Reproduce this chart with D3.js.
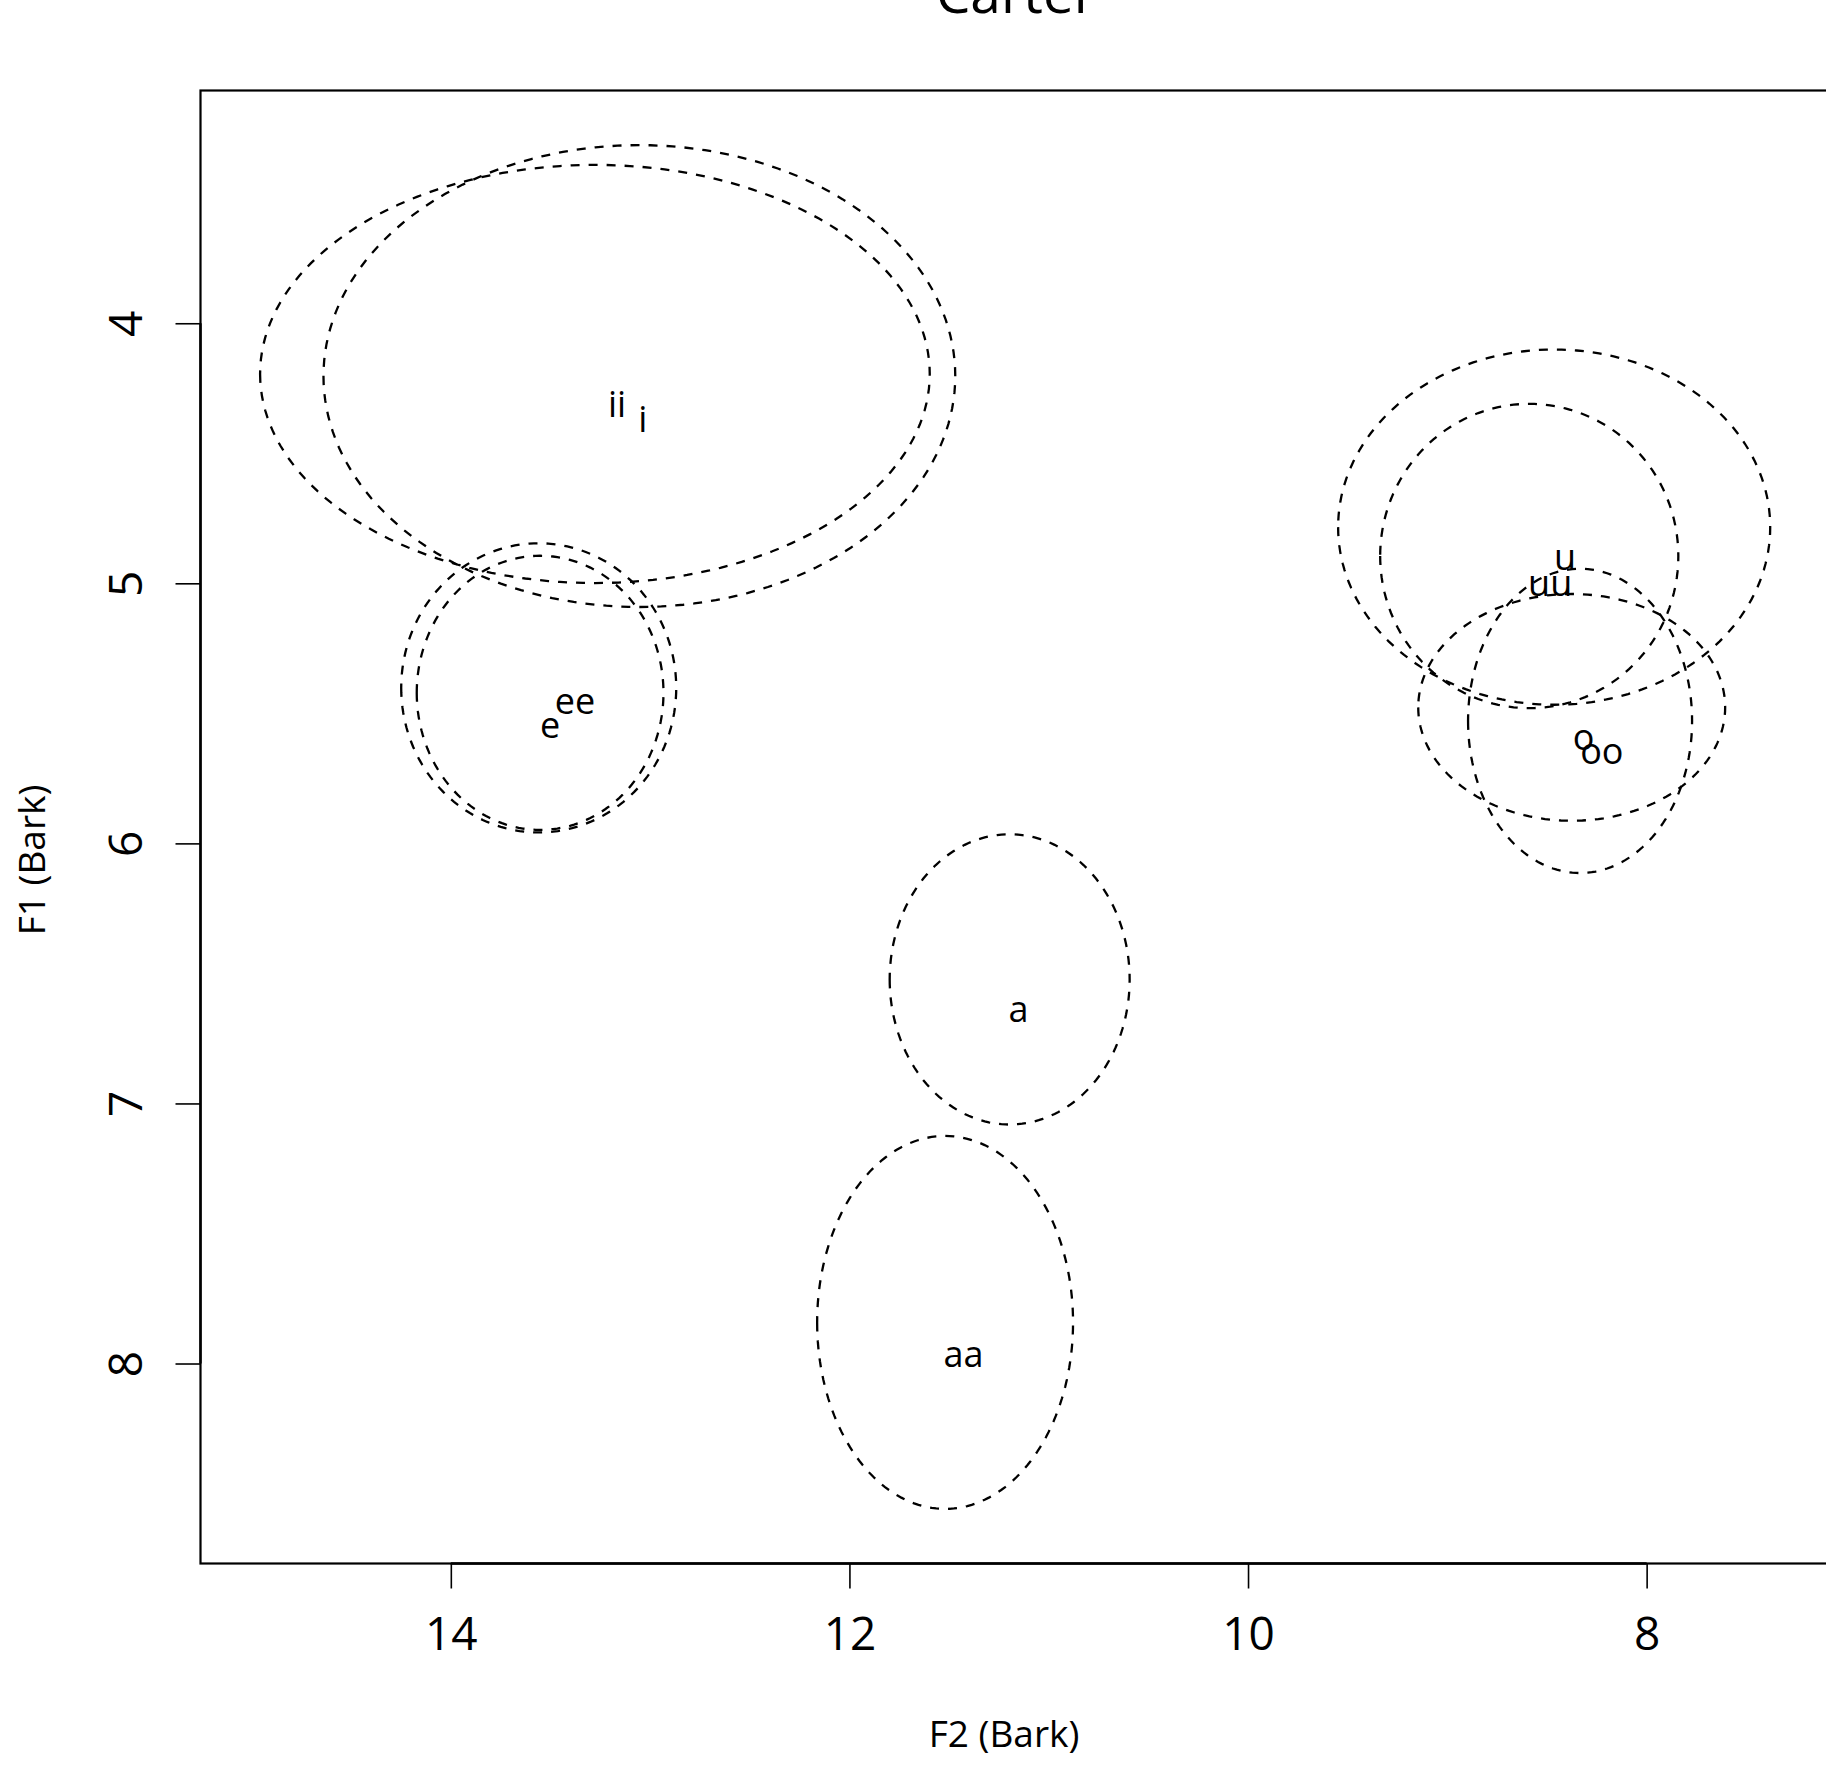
<!DOCTYPE html>
<html><head><meta charset="utf-8">
<script src="https://cdn.jsdelivr.net/npm/d3@7"></script>
<style>
body{margin:0;background:#fff}
svg text{font-family:"Open Sans","Noto Sans",sans-serif;fill:#000}
</style>
</head><body>
<svg id="chart" width="1826" height="1773"></svg>
<script>
// ---- data ----
const titleText = "Carter";
const xLabelText = "F2 (Bark)";
const yLabelText = "F1 (Bark)";
const xTicks = [14, 12, 10, 8];
const yTicks = [4, 5, 6, 7, 8];
const xLim = [15.256, 7.09];
const yLim = [3.105, 8.769];

// ellipses (F2 centre, F1 centre, F2 half-width, F1 half-height), all in Bark
const ellipseNames = ["ii", "i", "e", "ee", "a", "aa", "u", "uu", "o", "oo"];
const ellipseF2 = [13.277, 13.054, 13.559, 13.552, 11.196, 11.520, 8.464, 8.589, 8.334, 8.376];
const ellipseF1 = [4.195, 4.203, 5.402, 5.421, 6.523, 7.842, 4.784, 4.895, 5.529, 5.477];
const ellipseRF2 = [1.680, 1.585, 0.690, 0.619, 0.602, 0.642, 1.084, 0.748, 0.562, 0.770];
const ellipseRF1 = [0.804, 0.888, 0.556, 0.527, 0.558, 0.717, 0.683, 0.585, 0.585, 0.436];

// vowel labels (text baseline centre)
const labelText = ["ii", "i", "e", "ee", "a", "aa", "u", "uu", "o", "oo"];
const labelF2 = [13.166, 13.037, 13.502, 13.377, 11.152, 11.428, 8.409, 8.484, 8.317, 8.225];
const labelF1 = [4.359, 4.417, 5.596, 5.502, 6.687, 8.015, 4.949, 5.049, 5.639, 5.695];

// ---- layout ----
const W = 1826, H = 1773;
const plot = {left: 200.5, right: 1828, top: 90.5, bottom: 1563.5};

const svg = d3.select("#chart");
const x = d3.scaleLinear().domain(xLim).range([plot.left, plot.right]);
const y = d3.scaleLinear().domain(yLim).range([plot.top, plot.bottom]);

// box
svg.append("rect")
  .attr("x", plot.left).attr("y", plot.top)
  .attr("width", plot.right - plot.left).attr("height", plot.bottom - plot.top)
  .attr("fill", "none").attr("stroke", "#000").attr("stroke-width", 2.2);

// ellipses
const line = d3.line().x(d => x(d[0])).y(d => y(d[1])).curve(d3.curveLinearClosed);
const angles = d3.range(0, 360, 2).map(a => a * Math.PI / 180);
svg.append("g").selectAll("path")
  .data(ellipseNames.map((n, i) => i))
  .join("path")
  .attr("d", i => line(angles.map(t => [
      ellipseF2[i] + ellipseRF2[i] * Math.cos(t),
      ellipseF1[i] + ellipseRF1[i] * Math.sin(t)])))
  .attr("fill", "none").attr("stroke", "#000")
  .attr("stroke-width", 2.3).attr("stroke-dasharray", "9,9");

// labels
svg.append("g").selectAll("text")
  .data(labelText.map((t, i) => i))
  .join("text")
  .attr("x", i => x(labelF2[i])).attr("y", i => y(labelF1[i]))
  .attr("text-anchor", "middle").attr("font-size", 36)
  .text(i => labelText[i]);

// x axis
const xAxis = svg.append("g").attr("transform", `translate(0,${plot.bottom})`)
  .call(d3.axisBottom(x).tickValues(xTicks).tickSize(25).tickFormat(d3.format("d")));
xAxis.select(".domain").remove();
xAxis.selectAll(".tick line").attr("stroke", "#000").attr("stroke-width", 1.6);
xAxis.selectAll(".tick text").attr("y", 86.5).attr("dy", 0)
  .attr("font-size", 46).attr("fill", "#000")
  .style("font-family", '"Open Sans","Noto Sans",sans-serif');
svg.append("line")
  .attr("x1", x(xTicks[0])).attr("x2", x(xTicks[xTicks.length - 1]))
  .attr("y1", plot.bottom).attr("y2", plot.bottom)
  .attr("stroke", "#000").attr("stroke-width", 2.4);

// y axis
const yAxis = svg.append("g").attr("transform", `translate(${plot.left},0)`)
  .call(d3.axisLeft(y).tickValues(yTicks).tickSize(25).tickFormat(d3.format("d")));
yAxis.select(".domain").remove();
yAxis.selectAll(".tick line").attr("stroke", "#000").attr("stroke-width", 1.6);
yAxis.selectAll(".tick text")
  .attr("x", 0).attr("y", 0).attr("dy", 0)
  .attr("text-anchor", "middle")
  .attr("transform", `translate(${142 - plot.left},0) rotate(-90)`)
  .attr("font-size", 46).attr("fill", "#000")
  .style("font-family", '"Open Sans","Noto Sans",sans-serif');
svg.append("line")
  .attr("y1", y(yTicks[0])).attr("y2", y(yTicks[yTicks.length - 1]))
  .attr("x1", plot.left).attr("x2", plot.left)
  .attr("stroke", "#000").attr("stroke-width", 2.4);

// axis titles
svg.append("text").attr("x", 1004).attr("y", 1747)
  .attr("text-anchor", "middle").attr("font-size", 37).text(xLabelText);
svg.append("text")
  .attr("transform", "translate(45,860) rotate(-90)")
  .attr("text-anchor", "middle").attr("font-size", 37).text(yLabelText);

// title (cut off by the top edge, as in the reference)
svg.append("text").attr("x", 1016).attr("y", 13)
  .attr("text-anchor", "middle").attr("font-size", 55).text(titleText);
</script>
</body></html>
